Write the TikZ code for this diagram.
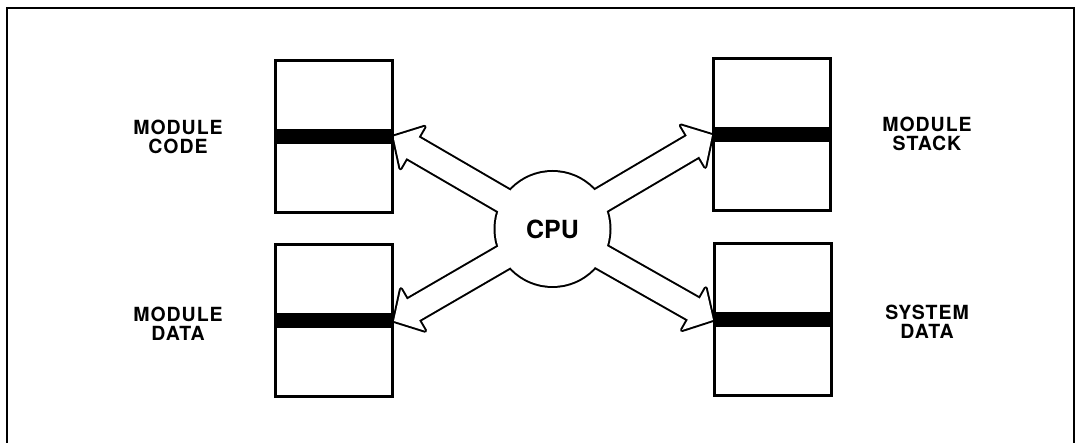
\documentclass[tikz,border=0pt]{standalone}
\usepackage{fontspec}
\setmainfont{TeX Gyre Heros}
\usetikzlibrary{calc,backgrounds}
\newcommand\fatpath[1]{($(cpu.center)!12pt!90:(#1)$) -- ($(#1)!22pt!(cpu.center)!12pt!-90:(cpu.center)$) -- ($(#1)!22pt!(cpu.center)!24pt!-90:(cpu.center)$) -- (#1) -- ($(#1)!22pt!(cpu.center)!24pt!90:(cpu.center)$) -- ($(#1)!22pt!(cpu.center)!12pt!90:(cpu.center)$) -- ($(cpu.center)!12pt!-90:(#1)$) -- cycle}
\begin{document}
\begin{tikzpicture}[x=1pt,y=-1pt,
  membox/.style={draw,line width=3pt,minimum width=117pt,minimum height=152pt,inner sep=0pt,
    path picture={\fill ([yshift=7.5pt]path picture bounding box.west) rectangle ([yshift=-7.5pt]path picture bounding box.east);}},
  lbl/.style={font=\fontsize{19.5}{19}\selectfont\bfseries\addfontfeature{LetterSpace=5},align=center,inner sep=0pt},
  cpustyle/.style={circle,minimum size=114pt,inner sep=0pt,font=\fontsize{25}{25}\selectfont\bfseries},
  outline/.style={line width=4pt,line join=round}]
\useasboundingbox (0,0) rectangle (1077,443);
\draw[line width=2pt] (7,443) -- (7,8) -- (1074,8) -- (1074,443);
\node[membox] (code) at (333.5,136.5) {};
\node[membox] (data) at (334,321) {};
\node[membox] (stack) at (772,135) {};
\node[membox] (sys) at (773,320) {};
\node[lbl] (codelbl) at (178,136.5) {MODULE\\CODE};
\node[lbl] (datalbl) at (178,324) {MODULE\\DATA};
\node[lbl] (stacklbl) at (927,134) {MODULE\\STACK};
\node[lbl] (syslbl) at (927,322) {SYSTEM\\DATA};
\node[cpustyle] (cpu) at (552.5,229) {CPU};
\begin{scope}[on background layer]
\fill[white] (0,0) rectangle (1077,443);
\foreach \t in {code.east,data.east,stack.west,sys.west}
  \draw[outline] \fatpath{\t};
\draw[outline] (cpu.center) circle (57pt);
\foreach \t in {code.east,data.east,stack.west,sys.west}
  \fill[white] \fatpath{\t};
\fill[white] (cpu.center) circle (57pt);
\end{scope}
\end{tikzpicture}
\end{document}
